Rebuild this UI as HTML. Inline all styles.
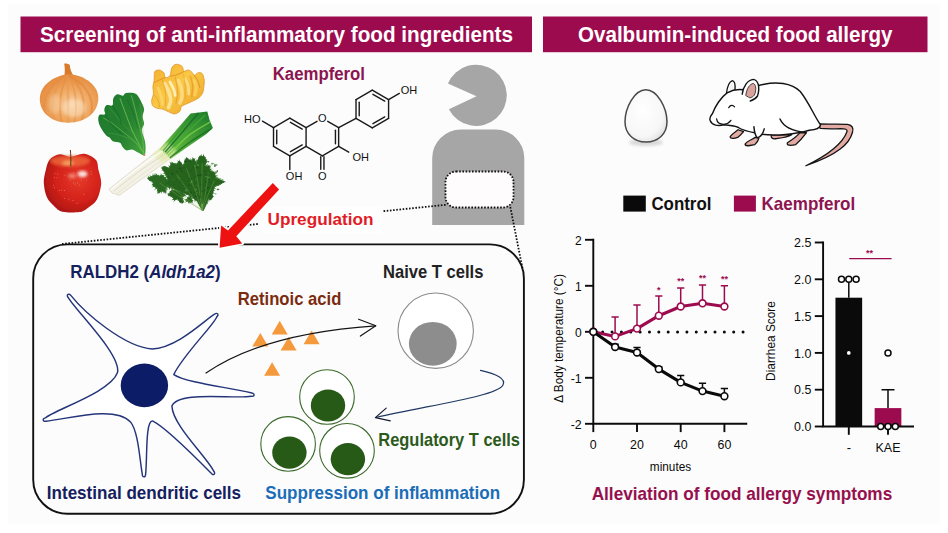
<!DOCTYPE html>
<html lang="en"><head><meta charset="utf-8"><title>Graphical abstract</title>
<style>
html,body{margin:0;padding:0;background:#ffffff;}
body{width:948px;height:533px;overflow:hidden;}
svg{display:block;font-family:"Liberation Sans",sans-serif;}
</style></head><body>
<svg width="948" height="533" viewBox="0 0 948 533">
<rect width="948" height="533" fill="#ffffff"/><rect x="8" y="4" width="932" height="520" fill="#fcfcfc"/>
<defs>
<filter id="b1" x="-10%" y="-10%" width="120%" height="120%"><feGaussianBlur stdDeviation="0.55"/></filter>
<filter id="b2" x="-20%" y="-20%" width="140%" height="140%"><feGaussianBlur stdDeviation="1.6"/></filter>
<filter id="b3" x="-30%" y="-30%" width="160%" height="160%"><feGaussianBlur stdDeviation="3"/></filter>
<radialGradient id="gOnion" cx="0.55" cy="0.62" r="0.62">
 <stop offset="0" stop-color="#f9d3a8"/><stop offset="0.45" stop-color="#f0ad68"/><stop offset="1" stop-color="#e48a3c"/>
</radialGradient>
<radialGradient id="gApple" cx="0.6" cy="0.42" r="0.68">
 <stop offset="0" stop-color="#e63a2a"/><stop offset="0.55" stop-color="#d4221b"/><stop offset="1" stop-color="#a51410"/>
</radialGradient>
<linearGradient id="gGinger" x1="0" y1="0" x2="1" y2="1">
 <stop offset="0" stop-color="#f4ad2c"/><stop offset="0.45" stop-color="#f9c845"/><stop offset="1" stop-color="#eca426"/>
</linearGradient>
<linearGradient id="gSpin" x1="0" y1="0.2" x2="1" y2="0.8">
 <stop offset="0" stop-color="#1d7a2e"/><stop offset="0.6" stop-color="#27812f"/><stop offset="1" stop-color="#3fa03a"/>
</linearGradient>
<linearGradient id="gLeek" x1="0" y1="1" x2="1" y2="0">
 <stop offset="0" stop-color="#c9dc6e"/><stop offset="0.25" stop-color="#5db53b"/><stop offset="1" stop-color="#1a7a2a"/>
</linearGradient>
<radialGradient id="gEgg" cx="0.42" cy="0.4" r="0.7">
 <stop offset="0" stop-color="#ffffff"/><stop offset="0.7" stop-color="#f7f7f7"/><stop offset="1" stop-color="#dcdcdc"/>
</radialGradient>
<clipPath id="cOnion"><ellipse cx="69" cy="98.5" rx="29.3" ry="24.2"/></clipPath>
</defs>
<g filter="url(#b1)">
<path d="M64.4,76 C65.2,70 64.6,66 64.2,63.8 C66,63.2 68.4,64 69.8,65 C70,69 71.5,72.5 73.5,76 Z" fill="#d97a2c"/>
<path d="M69,74.2 C58,74.5 39.8,83 39.8,99 C39.8,113 52,122.7 68,122.7 C85,122.7 98.3,113 98.3,98 C98.3,83 80,74 69,74.2 Z" fill="url(#gOnion)"/>
<g clip-path="url(#cOnion)" fill="none" stroke-linecap="round">
<path d="M68,75 C46.4,86 38.0,104 48.8,123" stroke="#e38b40" stroke-width="2.2" opacity="0.55"/>
<path d="M68,75 C53.6,86 48.0,104 55.2,123" stroke="#e9964b" stroke-width="2.4" opacity="0.55"/>
<path d="M68,75 C60.8,86 58.0,104 61.6,123" stroke="#e58c3e" stroke-width="2" opacity="0.55"/>
<path d="M68,75 C68.0,86 68.0,104 68.0,123" stroke="#ea9a52" stroke-width="2.6" opacity="0.55"/>
<path d="M68,75 C75.2,86 78.0,104 74.4,123" stroke="#e99246" stroke-width="2" opacity="0.55"/>
<path d="M68,75 C82.4,86 88.0,104 80.8,123" stroke="#e58d42" stroke-width="2.4" opacity="0.55"/>
<path d="M68,75 C89.6,86 98.0,104 87.2,123" stroke="#e18538" stroke-width="2.2" opacity="0.55"/>
<ellipse cx="74" cy="108" rx="12" ry="9" fill="#fbe2c4" opacity="0.5" filter="url(#b2)"/>
<ellipse cx="55" cy="104" rx="6" ry="10" fill="#f8d4ae" opacity="0.45" filter="url(#b2)"/>
</g></g>
<g filter="url(#b1)">
<path d="M154.3,74.5 C154.4,73.0 154.1,72.0 155.0,71.2 C155.9,70.5 158.0,69.7 159.5,70.0 C161.0,70.3 163.1,71.8 164.0,73.0 C165.0,74.3 164.2,77.1 165.2,77.5 C166.2,78.0 168.9,77.3 170.0,75.7 C171.1,74.1 170.8,69.7 171.8,67.8 C172.8,65.9 174.3,64.6 176.0,64.3 C177.7,64.1 180.7,65.1 182.0,66.3 C183.3,67.4 182.8,70.6 183.8,71.2 C184.9,71.8 187.0,69.8 188.3,70.0 C189.7,70.2 191.1,71.5 192.1,72.4 C193.1,73.3 193.3,75.2 194.4,75.3 C195.4,75.3 196.9,73.0 198.3,72.7 C199.6,72.5 201.3,72.5 202.3,73.8 C203.3,75.1 204.0,78.4 204.3,80.5 C204.5,82.7 204.1,84.5 203.8,86.5 C203.6,88.5 203.6,90.7 202.8,92.5 C201.9,94.4 200.7,96.3 198.9,97.8 C197.0,99.3 194.1,100.4 191.8,101.5 C189.5,102.7 186.8,103.7 185.0,104.5 C183.3,105.4 182.2,105.7 181.3,106.8 C180.4,107.9 180.9,110.1 179.8,111.3 C178.7,112.5 176.4,113.8 174.5,113.9 C172.7,113.9 170.5,112.6 168.5,111.8 C166.5,111.0 164.4,109.6 162.5,109.1 C160.6,108.5 158.9,108.9 157.3,108.3 C155.6,107.8 153.7,107.1 152.8,105.8 C151.8,104.4 151.6,102.0 151.7,100.0 C151.8,98.1 153.3,96.3 153.5,94.0 C153.7,91.8 152.8,88.8 152.9,86.5 C153.0,84.3 153.9,82.5 154.1,80.5 C154.3,78.5 154.1,76.1 154.3,74.5 Z" fill="url(#gGinger)" stroke="#e0952a" stroke-width="0.8"/>
<path d="M164.8,83.5 C165.4,84.8 167.5,88.3 168.5,91.0 C169.5,93.8 170.8,97.3 170.8,100.0 C170.8,102.8 168.9,106.3 168.5,107.6 " fill="none" stroke="#fde9a6" stroke-width="3.60" stroke-linecap="round" opacity="0.8"/>
<path d="M170.0,82.0 C170.7,83.3 172.9,87.3 173.8,89.5 C174.7,91.8 175.0,94.5 175.3,95.5 " fill="none" stroke="#fff3cf" stroke-width="2.80" stroke-linecap="round" opacity="0.85"/>
<path d="M178.3,80.5 C178.8,81.8 180.7,85.3 181.3,88.0 C181.9,90.8 182.3,94.5 182.0,97.0 C181.8,99.5 180.2,102.0 179.8,103.0 " fill="none" stroke="#fce08c" stroke-width="3.60" stroke-linecap="round" opacity="0.8"/>
<path d="M185.0,79.0 C185.5,80.0 187.4,82.5 188.0,85.0 C188.7,87.5 188.7,92.5 188.8,94.0 " fill="none" stroke="#fde59a" stroke-width="2.80" stroke-linecap="round" opacity="0.7"/>
<path d="M158.0,88.0 C158.5,89.3 160.3,92.8 161.0,95.5 C161.8,98.3 162.3,103.0 162.5,104.5 " fill="none" stroke="#fbd870" stroke-width="2.80" stroke-linecap="round" opacity="0.7"/>
<path d="M194.1,80.5 C194.4,81.7 196.2,84.9 196.3,87.3 C196.4,89.7 195.1,93.5 194.8,94.8 " fill="none" stroke="#fbd666" stroke-width="3.20" stroke-linecap="round" opacity="0.7"/>
<path d="M175.3,77.5 C175.5,78.8 176.4,82.3 176.8,85.0 C177.2,87.8 177.7,91.0 177.5,94.0 C177.4,97.0 176.3,101.5 176.0,103.0 " fill="none" stroke="#e99a2a" stroke-width="1.28" stroke-linecap="round" opacity="0.7"/>
<path d="M190.3,76.0 C190.7,77.5 192.3,81.5 192.6,85.0 C192.8,88.5 191.9,95.0 191.8,97.0 " fill="none" stroke="#e7962a" stroke-width="1.28" stroke-linecap="round" opacity="0.7"/>
<path d="M162.5,80.5 C163.0,82.5 165.0,88.3 165.5,92.5 C166.0,96.8 165.5,103.8 165.5,106.1 " fill="none" stroke="#e99a2a" stroke-width="1.12" stroke-linecap="round" opacity="0.6"/>
<path d="M183.5,74.5 C183.8,76.3 184.8,80.8 185.0,85.0 C185.3,89.3 185.0,97.5 185.0,100.0 " fill="none" stroke="#eaa030" stroke-width="1.12" stroke-linecap="round" opacity="0.55"/>
<path d="M154.7,82.3 C155.5,81.9 157.8,80.7 159.5,79.9 C161.2,79.2 164.0,78.2 164.9,77.8 " fill="none" stroke="#dc8a22" stroke-width="1.04" stroke-linecap="round" opacity="0.75"/>
<path d="M170.6,76.3 C171.8,76.0 175.3,75.3 177.5,74.5 C179.7,73.7 182.8,72.0 183.8,71.5 " fill="none" stroke="#dc8a22" stroke-width="1.04" stroke-linecap="round" opacity="0.7"/>
<path d="M194.4,75.6 C194.9,76.4 196.9,78.9 197.8,80.8 C198.7,82.8 199.4,86.2 199.8,87.3 " fill="none" stroke="#dc8a22" stroke-width="1.04" stroke-linecap="round" opacity="0.7"/>
<path d="M153.5,94.3 C154.3,95.3 157.0,98.0 158.0,100.0 C159.0,102.1 159.3,105.7 159.5,106.8 " fill="none" stroke="#dc8a22" stroke-width="0.96" stroke-linecap="round" opacity="0.6"/>
</g>
<g filter="url(#b1)">
<path d="M144.4,155.3 C145.6,154.5 145.5,150.5 145.6,148.1 C145.6,145.6 145.4,143.6 144.8,140.6 C144.2,137.6 141.9,132.8 141.8,130.0 C141.7,127.3 143.9,126.3 144.1,124.0 C144.2,121.8 142.6,119.0 142.6,116.5 C142.6,114.0 144.3,111.5 144.1,109.0 C143.8,106.5 142.3,104.0 141.1,101.5 C139.8,99.1 138.3,95.8 136.5,94.3 C134.8,92.9 132.4,93.0 130.5,92.8 C128.7,92.6 126.5,92.8 125.3,93.3 C124.0,93.8 124.4,95.6 123.0,95.8 C121.7,96.0 119.0,93.9 117.3,94.3 C115.7,94.8 114.1,96.7 113.3,98.5 C112.5,100.3 113.6,104.1 112.5,105.3 C111.4,106.4 107.9,104.5 106.5,105.3 C105.1,106.0 104.5,108.3 104.3,109.8 C104.0,111.3 105.8,113.4 105.0,114.3 C104.2,115.2 100.4,113.9 99.3,115.0 C98.2,116.2 98.1,118.8 98.4,121.0 C98.7,123.3 99.9,126.1 101.3,128.5 C102.6,131.0 105.1,134.2 106.5,135.8 C107.9,137.3 108.5,136.6 109.5,137.6 C110.6,138.5 111.1,140.4 112.8,141.3 C114.6,142.2 118.5,141.9 120.0,142.8 C121.6,143.7 121.3,145.3 122.3,146.6 C123.3,147.8 124.4,149.8 126.0,150.3 C127.7,150.8 130.0,149.2 132.0,149.6 C134.0,149.9 136.0,151.6 138.0,152.6 C140.1,153.5 143.1,156.0 144.4,155.3 Z" fill="url(#gSpin)"/>
<path d="M144.1,154.4 C143.3,152.8 141.6,149.1 139.5,145.1 C137.5,141.0 134.5,135.8 132.0,130.0 C129.5,124.3 126.5,115.8 124.5,110.5 C122.5,105.3 120.8,100.5 120.0,98.5 " fill="none" stroke="#7cc45e" stroke-width="0.92" stroke-linecap="round" opacity="0.85"/>
<path d="M142.6,151.8 C141.3,150.2 138.0,145.2 135.0,142.1 C132.0,138.9 128.5,136.3 124.5,133.0 C120.5,129.8 114.5,125.0 111.0,122.5 C107.5,120.0 104.8,118.8 103.5,118.0 " fill="none" stroke="#6dbb55" stroke-width="0.85" stroke-linecap="round" opacity="0.8"/>
<path d="M143.8,153.3 C143.6,150.9 143.5,144.4 142.6,139.1 C141.6,133.7 139.5,127.0 138.0,121.0 C136.5,115.0 134.7,107.3 133.5,103.0 C132.4,98.8 131.7,96.8 131.3,95.5 " fill="none" stroke="#74c05a" stroke-width="0.85" stroke-linecap="round" opacity="0.8"/>
<path d="M139.5,145.1 C138.0,144.1 134.3,140.8 130.5,139.1 C126.8,137.3 120.8,135.6 117.0,134.5 C113.3,133.5 109.5,133.3 108.0,133.0 " fill="none" stroke="#58ad48" stroke-width="0.62" stroke-linecap="round" opacity="0.6"/>
<path d="M135.0,134.5 C133.5,133.3 129.5,130.5 126.0,127.0 C122.5,123.5 116.8,116.8 114.0,113.5 C111.3,110.3 110.3,108.5 109.5,107.5 " fill="none" stroke="#58ad48" stroke-width="0.62" stroke-linecap="round" opacity="0.6"/>
<path d="M143.3,145.1 C143.2,142.6 143.1,135.1 142.9,130.0 C142.6,125.0 142.2,119.3 141.8,115.0 C141.4,110.8 140.6,106.3 140.3,104.5 " fill="none" stroke="#58ad48" stroke-width="0.58" stroke-linecap="round" opacity="0.55"/>
<path d="M112.5,106.0 C113.5,107.5 117.0,112.0 118.5,115.0 C120.0,118.0 121.0,122.5 121.5,124.0 " fill="none" stroke="#14602a" stroke-width="1.15" stroke-linecap="round" opacity="0.45"/>
<path d="M105.8,115.0 C106.9,116.8 109.8,122.3 112.5,125.5 C115.3,128.8 120.7,133.0 122.3,134.5 " fill="none" stroke="#14602a" stroke-width="1.15" stroke-linecap="round" opacity="0.45"/>
<path d="M127.5,100.0 C128.5,102.3 131.8,108.8 133.5,113.5 C135.3,118.3 137.3,126.0 138.0,128.5 " fill="none" stroke="#14602a" stroke-width="1.15" stroke-linecap="round" opacity="0.4"/>
<circle cx="144.4" cy="155" r="1.1" fill="#c98a6a"/>
</g>
<g filter="url(#b1)">
<path d="M108.9,189.2 L160.1,148.6 L170.5,158.5 L119.3,195.3 L112.2,193.1 Z" fill="#f3f1e4" stroke="#d6d3c2" stroke-width="0.7"/>
<path d="M159.1,149.4 L174.8,131.7 L190.6,113.5 L207.3,111.6 L209.5,119.8 L212.9,128.1 L206.4,134.0 L186.7,147.4 L170.9,158.8 Z" fill="url(#gLeek)"/>
<path d="M153.2,154.3 L160.1,148.6 L167.0,142.5 L176.8,150.4 L170.5,158.5 L163.0,163.6 Z" fill="#e4ecaa" opacity="0.75" filter="url(#b2)"/>
<path d="M165.0,152.3 C168.0,148.9 177.1,138.2 182.7,131.7 C188.3,125.1 195.9,116.1 198.5,113.0 " fill="none" stroke="#156b25" stroke-width="1.60" stroke-linecap="butt" opacity="0.8"/>
<path d="M168.0,155.7 C171.4,152.3 181.6,141.3 188.6,135.6 C195.7,130.0 206.7,124.1 210.3,121.8 " fill="none" stroke="#79cf4a" stroke-width="1.50" stroke-linecap="butt" opacity="0.8"/>
<path d="M166.6,153.7 C169.9,150.2 180.2,139.1 186.7,132.7 C193.1,126.2 202.3,117.9 205.4,114.9 " fill="none" stroke="#3daa38" stroke-width="1.50" stroke-linecap="butt" opacity="0.7"/>
<path d="M169.9,157.9 C173.4,155.1 183.7,146.4 190.6,141.5 C197.5,136.7 207.8,130.8 211.3,128.7 " fill="none" stroke="#186f27" stroke-width="1.50" stroke-linecap="butt" opacity="0.8"/>
<path d="M163.0,151.0 C165.7,147.8 174.0,137.7 178.8,131.7 C183.5,125.7 189.5,117.7 191.6,114.9 " fill="none" stroke="#2b9433" stroke-width="1.25" stroke-linecap="butt" opacity="0.7"/>
<path d="M113.8,191.2 C118.1,187.8 130.8,177.3 139.4,171.1 C148.0,164.8 161.1,156.6 165.4,153.7 " fill="none" stroke="#cfccb8" stroke-width="0.80" stroke-linecap="butt" opacity="0.8"/>
<path d="M110.8,189.8 C114.9,186.5 126.8,176.6 135.5,170.1 C144.1,163.6 158.1,154.0 162.6,150.8 " fill="none" stroke="#ffffff" stroke-width="1.25" stroke-linecap="butt" opacity="0.8"/>
<path d="M116.7,193.7 C120.8,190.6 132.8,181.2 141.4,175.0 C149.9,168.8 163.5,159.4 168.0,156.3 " fill="none" stroke="#dedbc8" stroke-width="0.80" stroke-linecap="butt" opacity="0.7"/>
</g>
<g filter="url(#b1)">
<path d="M202.2,210.4 L197.3,201.2 L188.8,195.1 L180.2,191.5 L170.5,187.8 L166.2,185.4 L168.0,179.3 L164.4,172.0 L162.0,168.3 L164.4,166.5 L169.3,168.3 L171.7,162.8 L176.6,164.6 L179.0,161.0 L181.5,163.4 L182.1,168.3 L186.3,157.9 L191.2,161.0 L193.7,158.5 L196.1,163.4 L199.8,156.1 L204.6,156.7 L206.5,161.6 L204.6,165.9 L209.5,166.5 L210.1,170.7 L214.4,172.6 L215.6,177.4 L220.5,179.9 L224.1,181.7 L219.3,184.8 L214.4,186.6 L213.2,191.5 L211.3,197.0 L208.3,198.8 L206.5,203.7 L203.4,210.4 Z" fill="#27641f" stroke="#27641f" stroke-width="0.8" stroke-linejoin="round"/>
<path d="M147.9,178.0 L152.2,176.2 L155.9,175.0 L159.5,176.2 L162.0,175.0 L166.2,178.7 L168.0,184.1 L166.2,187.8 L165.6,192.1 L162.0,190.9 L158.3,192.7 L157.7,189.0 L152.8,185.4 L153.4,181.7 L149.8,180.5 Z" fill="#296a22" stroke="#296a22" stroke-width="0.8" stroke-linejoin="round"/>
<path d="M168.0,195.1 L171.7,190.2 L176.6,190.9 L181.5,192.7 L185.1,195.1 L182.1,197.0 L183.3,202.4 L180.2,202.4 L177.8,198.8 L174.1,200.0 L172.9,197.0 Z" fill="#27641f" stroke="#27641f" stroke-width="0.8" stroke-linejoin="round"/>
<path d="M185.7,200.6 L188.8,197.0 L191.2,198.2 L192.4,201.2 L189.4,202.4 Z" fill="#27641f" stroke="#27641f" stroke-width="0.8" stroke-linejoin="round"/>
<path d="M208.3,198.8 L211.3,193.9 L213.2,196.3 L210.7,200.0 Z" fill="#235c1d" stroke="#235c1d" stroke-width="0.8" stroke-linejoin="round"/>
<path d="M194.5,199.1 L194.8,202.5 L196.0,199.3 Z" fill="#25601f"/>
<path d="M190.4,195.8 L189.7,198.8 L191.8,196.6 Z" fill="#2a6b23"/>
<path d="M186.7,193.5 L184.3,196.2 L187.4,194.3 Z" fill="#2f7427"/>
<path d="M182.8,191.8 L180.1,192.7 L182.9,192.8 Z" fill="#2a6b23"/>
<path d="M177.6,189.8 L176.6,192.2 L178.6,190.5 Z" fill="#2f7427"/>
<path d="M173.0,188.0 L170.6,190.4 L173.6,188.9 Z" fill="#25601f"/>
<path d="M169.7,186.3 L167.6,187.5 L170.1,187.9 Z" fill="#2a6b23"/>
<path d="M167.4,185.0 L165.4,186.8 L168.1,186.6 Z" fill="#2a6b23"/>
<path d="M167.0,183.1 L163.7,184.6 L167.3,184.4 Z" fill="#25601f"/>
<path d="M168.3,180.1 L165.7,180.3 L167.8,181.7 Z" fill="#2a6b23"/>
<path d="M167.9,177.4 L165.0,175.3 L167.0,178.2 Z" fill="#2f7427"/>
<path d="M165.9,173.3 L162.3,173.1 L165.6,174.5 Z" fill="#2f7427"/>
<path d="M164.3,170.6 L161.2,170.6 L164.2,171.6 Z" fill="#25601f"/>
<path d="M163.3,169.0 L161.2,168.1 L162.6,170.0 Z" fill="#2f7427"/>
<path d="M163.3,167.4 L160.6,166.9 L162.7,168.6 Z" fill="#25601f"/>
<path d="M164.4,166.2 L161.7,166.7 L164.2,167.8 Z" fill="#25601f"/>
<path d="M166.3,166.4 L163.5,166.1 L165.8,167.7 Z" fill="#2f7427"/>
<path d="M168.7,167.6 L165.7,166.9 L168.3,168.5 Z" fill="#2a6b23"/>
<path d="M170.8,166.7 L168.2,164.9 L169.6,167.8 Z" fill="#2a6b23"/>
<path d="M172.1,164.1 L169.5,161.6 L170.7,165.0 Z" fill="#2f7427"/>
<path d="M173.7,163.2 L170.8,161.2 L172.9,164.0 Z" fill="#2f7427"/>
<path d="M176.1,163.6 L172.7,163.3 L175.6,165.1 Z" fill="#2f7427"/>
<path d="M177.8,163.4 L174.2,162.8 L177.5,164.4 Z" fill="#2f7427"/>
<path d="M179.1,162.0 L177.1,160.1 L178.3,162.6 Z" fill="#2f7427"/>
<path d="M180.3,162.0 L179.4,159.1 L179.1,162.1 Z" fill="#2f7427"/>
<path d="M181.7,162.6 L178.8,160.8 L180.7,163.7 Z" fill="#25601f"/>
<path d="M182.3,164.9 L180.5,161.7 L181.3,165.3 Z" fill="#2a6b23"/>
<path d="M182.7,166.5 L179.6,166.0 L182.0,168.0 Z" fill="#2a6b23"/>
<path d="M184.0,165.4 L181.2,164.1 L183.0,166.6 Z" fill="#2f7427"/>
<path d="M186.2,160.8 L184.9,158.6 L184.5,161.2 Z" fill="#25601f"/>
<path d="M188.5,158.4 L185.8,157.1 L187.4,159.6 Z" fill="#2a6b23"/>
<path d="M190.3,160.9 L190.9,157.9 L189.3,160.5 Z" fill="#2f7427"/>
<path d="M192.6,160.5 L190.5,158.4 L191.7,161.1 Z" fill="#2f7427"/>
<path d="M194.0,159.3 L192.3,156.9 L192.4,159.9 Z" fill="#2a6b23"/>
<path d="M194.6,160.5 L195.5,157.7 L193.4,159.8 Z" fill="#25601f"/>
<path d="M196.2,162.5 L195.1,160.1 L194.9,162.8 Z" fill="#2a6b23"/>
<path d="M197.8,161.8 L196.0,158.9 L196.6,162.3 Z" fill="#2a6b23"/>
<path d="M199.3,158.6 L199.6,155.6 L198.1,158.2 Z" fill="#2a6b23"/>
<path d="M201.5,156.9 L201.5,153.8 L200.2,156.6 Z" fill="#25601f"/>
<path d="M204.1,157.1 L203.8,153.7 L202.6,156.9 Z" fill="#25601f"/>
<path d="M205.4,158.6 L205.9,156.4 L204.3,158.1 Z" fill="#25601f"/>
<path d="M206.2,161.2 L207.3,158.7 L205.2,160.3 Z" fill="#25601f"/>
<path d="M206.1,163.4 L208.1,160.4 L205.2,162.6 Z" fill="#2a6b23"/>
<path d="M205.4,165.6 L206.0,163.3 L204.2,164.8 Z" fill="#2f7427"/>
<path d="M206.3,166.7 L206.5,164.0 L205.1,166.3 Z" fill="#25601f"/>
<path d="M208.4,167.1 L210.4,164.4 L207.5,166.2 Z" fill="#25601f"/>
<path d="M210.0,168.3 L211.3,164.9 L208.9,167.6 Z" fill="#2a6b23"/>
<path d="M209.8,170.6 L212.5,168.8 L209.2,169.0 Z" fill="#2f7427"/>
<path d="M211.1,171.9 L213.2,169.7 L210.5,171.0 Z" fill="#2f7427"/>
<path d="M212.9,172.9 L215.7,172.0 L212.8,171.4 Z" fill="#25601f"/>
<path d="M214.4,174.6 L216.9,173.1 L214.0,173.2 Z" fill="#25601f"/>
<path d="M215.1,176.9 L218.2,175.2 L214.6,175.8 Z" fill="#25601f"/>
<path d="M216.3,178.8 L219.5,178.2 L216.4,177.3 Z" fill="#2a6b23"/>
<path d="M219.2,180.1 L221.4,177.9 L218.5,178.9 Z" fill="#2a6b23"/>
<path d="M221.3,181.2 L223.8,179.1 L220.6,179.9 Z" fill="#2a6b23"/>
<path d="M222.5,181.5 L226.0,182.7 L223.1,180.5 Z" fill="#2a6b23"/>
<path d="M222.8,183.3 L225.6,180.9 L222.2,182.1 Z" fill="#25601f"/>
<path d="M220.4,184.8 L222.5,182.7 L219.7,183.7 Z" fill="#25601f"/>
<path d="M218.0,186.1 L219.8,184.3 L217.3,184.8 Z" fill="#2f7427"/>
<path d="M215.5,186.9 L217.6,185.0 L214.9,185.8 Z" fill="#2f7427"/>
<path d="M213.3,188.1 L216.3,189.4 L214.1,187.0 Z" fill="#2a6b23"/>
<path d="M212.8,190.6 L215.5,191.0 L213.2,189.5 Z" fill="#25601f"/>
<path d="M212.0,193.5 L215.2,193.5 L212.5,191.9 Z" fill="#2a6b23"/>
<path d="M211.0,196.0 L214.3,197.0 L211.7,194.7 Z" fill="#2f7427"/>
<path d="M209.8,197.6 L212.1,198.6 L210.6,196.6 Z" fill="#2f7427"/>
<path d="M208.2,198.0 L209.8,201.4 L209.6,197.7 Z" fill="#2f7427"/>
<path d="M207.1,199.7 L208.6,202.6 L208.3,199.3 Z" fill="#2f7427"/>
<path d="M206.2,202.3 L208.2,204.7 L207.2,201.8 Z" fill="#25601f"/>
<path d="M149.8,177.7 L147.7,175.4 L148.7,178.3 Z" fill="#2a6b23"/>
<path d="M152.0,176.5 L149.4,175.0 L151.0,177.6 Z" fill="#2f7427"/>
<path d="M153.8,176.4 L153.0,172.9 L152.4,176.4 Z" fill="#2f7427"/>
<path d="M155.6,175.7 L154.7,173.2 L154.4,175.8 Z" fill="#2a6b23"/>
<path d="M157.6,175.5 L155.5,172.4 L156.3,176.0 Z" fill="#2f7427"/>
<path d="M159.5,176.1 L157.9,174.3 L158.1,176.6 Z" fill="#2f7427"/>
<path d="M160.7,176.4 L160.0,174.2 L159.6,176.4 Z" fill="#2f7427"/>
<path d="M162.0,175.6 L160.8,172.9 L160.9,175.9 Z" fill="#2f7427"/>
<path d="M163.0,176.7 L164.6,174.6 L162.3,175.8 Z" fill="#2a6b23"/>
<path d="M165.0,178.6 L167.1,176.8 L164.4,177.3 Z" fill="#2f7427"/>
<path d="M166.5,181.0 L169.4,178.9 L165.9,179.5 Z" fill="#2a6b23"/>
<path d="M167.6,183.5 L169.1,181.6 L166.8,182.6 Z" fill="#25601f"/>
<path d="M167.1,185.8 L169.7,185.0 L167.1,184.4 Z" fill="#2f7427"/>
<path d="M166.0,187.6 L169.3,187.4 L166.4,186.0 Z" fill="#2a6b23"/>
<path d="M165.6,189.5 L168.1,189.0 L165.6,188.2 Z" fill="#2a6b23"/>
<path d="M165.1,190.7 L166.6,193.4 L166.1,190.4 Z" fill="#2f7427"/>
<path d="M163.7,191.8 L166.1,194.1 L165.2,190.9 Z" fill="#25601f"/>
<path d="M162.1,191.1 L164.5,193.7 L163.1,190.4 Z" fill="#2f7427"/>
<path d="M160.2,190.9 L161.4,194.1 L161.8,190.7 Z" fill="#2f7427"/>
<path d="M158.6,191.5 L158.7,194.0 L160.1,192.0 Z" fill="#25601f"/>
<path d="M157.6,191.1 L157.3,194.2 L159.0,191.6 Z" fill="#2f7427"/>
<path d="M157.5,189.2 L156.8,191.6 L158.7,189.9 Z" fill="#25601f"/>
<path d="M156.4,187.3 L154.1,190.2 L157.3,188.3 Z" fill="#2f7427"/>
<path d="M154.2,185.6 L151.4,187.6 L154.7,186.5 Z" fill="#2a6b23"/>
<path d="M153.2,183.8 L151.3,185.2 L153.6,184.7 Z" fill="#2a6b23"/>
<path d="M153.7,182.1 L150.9,182.7 L153.8,183.1 Z" fill="#2f7427"/>
<path d="M153.3,181.0 L151.0,180.4 L152.5,182.3 Z" fill="#2a6b23"/>
<path d="M151.3,180.6 L148.1,179.4 L150.9,181.5 Z" fill="#2a6b23"/>
<path d="M150.1,179.9 L147.8,177.6 L149.0,180.6 Z" fill="#2a6b23"/>
<path d="M149.1,178.5 L146.5,177.4 L148.5,179.4 Z" fill="#25601f"/>
<path d="M169.4,193.2 L166.4,194.0 L169.5,194.6 Z" fill="#25601f"/>
<path d="M171.4,190.9 L169.0,191.1 L171.1,192.2 Z" fill="#25601f"/>
<path d="M173.6,190.5 L171.3,188.3 L172.8,191.1 Z" fill="#2a6b23"/>
<path d="M176.2,190.9 L174.3,188.4 L175.0,191.4 Z" fill="#25601f"/>
<path d="M178.5,191.9 L178.0,189.5 L177.0,191.7 Z" fill="#2a6b23"/>
<path d="M180.3,193.0 L182.2,190.4 L179.5,192.1 Z" fill="#25601f"/>
<path d="M182.1,194.0 L184.2,192.5 L181.7,193.0 Z" fill="#2a6b23"/>
<path d="M184.1,195.3 L186.6,193.1 L183.4,194.2 Z" fill="#2a6b23"/>
<path d="M183.7,196.1 L187.2,196.4 L184.1,194.8 Z" fill="#2f7427"/>
<path d="M182.6,197.3 L185.4,195.5 L182.1,196.0 Z" fill="#2a6b23"/>
<path d="M181.6,198.9 L184.0,199.0 L182.3,197.4 Z" fill="#25601f"/>
<path d="M182.1,201.3 L184.5,202.5 L183.2,200.1 Z" fill="#2f7427"/>
<path d="M181.8,202.1 L182.9,204.3 L183.1,201.8 Z" fill="#25601f"/>
<path d="M180.3,202.2 L181.6,204.1 L181.3,201.8 Z" fill="#2f7427"/>
<path d="M179.0,201.2 L180.3,203.5 L180.0,200.9 Z" fill="#25601f"/>
<path d="M177.5,199.6 L179.4,201.5 L178.8,198.9 Z" fill="#2f7427"/>
<path d="M176.2,198.8 L177.5,201.1 L177.3,198.4 Z" fill="#25601f"/>
<path d="M174.9,198.9 L173.3,201.9 L175.9,199.7 Z" fill="#25601f"/>
<path d="M174.0,198.3 L171.4,200.3 L174.6,199.8 Z" fill="#2f7427"/>
<path d="M173.8,197.3 L171.0,197.3 L173.6,198.3 Z" fill="#25601f"/>
<path d="M172.0,195.8 L169.9,197.2 L172.3,196.8 Z" fill="#2a6b23"/>
<path d="M169.5,194.9 L167.5,196.5 L169.9,195.8 Z" fill="#2f7427"/>
<path d="M187.2,199.2 L184.4,199.0 L186.7,200.5 Z" fill="#2f7427"/>
<path d="M188.6,198.4 L188.3,195.3 L187.3,198.3 Z" fill="#2f7427"/>
<path d="M190.0,197.9 L189.7,195.3 L188.6,197.6 Z" fill="#2a6b23"/>
<path d="M191.0,198.7 L191.8,195.9 L189.7,197.9 Z" fill="#2a6b23"/>
<path d="M191.3,199.8 L193.3,198.4 L190.8,198.3 Z" fill="#2f7427"/>
<path d="M191.4,201.1 L193.8,201.0 L191.9,199.5 Z" fill="#2f7427"/>
<path d="M190.7,201.6 L192.9,203.4 L192.1,200.7 Z" fill="#25601f"/>
<path d="M189.4,202.7 L192.3,203.1 L190.0,201.2 Z" fill="#2a6b23"/>
<path d="M187.8,201.7 L189.3,204.5 L188.9,201.3 Z" fill="#25601f"/>
<path d="M186.6,200.4 L184.4,203.3 L187.3,201.1 Z" fill="#25601f"/>
<ellipse cx="169.7" cy="176.1" rx="1.2" ry="0.6" fill="#3f8a33" opacity="0.75"/>
<ellipse cx="184.6" cy="163.5" rx="0.7" ry="0.6" fill="#4a973a" opacity="0.75"/>
<ellipse cx="200.9" cy="196.5" rx="1.0" ry="1.1" fill="#17481a" opacity="0.75"/>
<ellipse cx="206.5" cy="176.5" rx="0.6" ry="1.0" fill="#1a4f17" opacity="0.75"/>
<ellipse cx="209.5" cy="182.3" rx="1.2" ry="0.6" fill="#1a4f17" opacity="0.75"/>
<ellipse cx="207.7" cy="164.5" rx="0.6" ry="0.6" fill="#4a973a" opacity="0.75"/>
<ellipse cx="168.3" cy="176.0" rx="0.6" ry="1.0" fill="#1a4f17" opacity="0.75"/>
<ellipse cx="189.0" cy="185.2" rx="1.5" ry="0.6" fill="#1a4f17" opacity="0.75"/>
<ellipse cx="202.1" cy="185.2" rx="1.1" ry="0.6" fill="#1f5a1b" opacity="0.75"/>
<ellipse cx="182.1" cy="165.1" rx="1.5" ry="0.6" fill="#17481a" opacity="0.75"/>
<ellipse cx="169.6" cy="188.6" rx="0.6" ry="0.8" fill="#17481a" opacity="0.75"/>
<ellipse cx="191.1" cy="182.6" rx="1.1" ry="0.6" fill="#4a973a" opacity="0.75"/>
<ellipse cx="166.3" cy="189.6" rx="1.4" ry="1.1" fill="#4a973a" opacity="0.75"/>
<ellipse cx="194.7" cy="166.2" rx="0.7" ry="1.0" fill="#4a973a" opacity="0.75"/>
<ellipse cx="208.6" cy="172.8" rx="1.1" ry="0.8" fill="#1f5a1b" opacity="0.75"/>
<ellipse cx="202.2" cy="191.2" rx="1.2" ry="0.7" fill="#17481a" opacity="0.75"/>
<ellipse cx="191.4" cy="170.4" rx="1.3" ry="1.0" fill="#1f5a1b" opacity="0.75"/>
<ellipse cx="212.0" cy="163.7" rx="0.9" ry="1.0" fill="#3f8a33" opacity="0.75"/>
<ellipse cx="214.9" cy="165.9" rx="1.0" ry="1.0" fill="#1a4f17" opacity="0.75"/>
<ellipse cx="200.0" cy="197.1" rx="1.2" ry="0.7" fill="#1a4f17" opacity="0.75"/>
<ellipse cx="208.2" cy="175.4" rx="0.9" ry="0.7" fill="#1f5a1b" opacity="0.75"/>
<ellipse cx="172.8" cy="179.8" rx="0.9" ry="0.5" fill="#3f8a33" opacity="0.75"/>
<ellipse cx="205.7" cy="182.0" rx="0.7" ry="1.1" fill="#1a4f17" opacity="0.75"/>
<ellipse cx="208.9" cy="177.5" rx="1.5" ry="0.9" fill="#3f8a33" opacity="0.75"/>
<ellipse cx="177.7" cy="177.2" rx="0.8" ry="0.7" fill="#3f8a33" opacity="0.75"/>
<ellipse cx="174.2" cy="184.4" rx="1.3" ry="0.6" fill="#1f5a1b" opacity="0.75"/>
<ellipse cx="193.4" cy="167.4" rx="1.0" ry="1.1" fill="#1f5a1b" opacity="0.75"/>
<ellipse cx="207.3" cy="165.4" rx="1.0" ry="0.6" fill="#3f8a33" opacity="0.75"/>
<ellipse cx="196.9" cy="167.5" rx="1.3" ry="1.1" fill="#1a4f17" opacity="0.75"/>
<ellipse cx="193.5" cy="197.6" rx="0.6" ry="0.6" fill="#17481a" opacity="0.75"/>
<ellipse cx="210.2" cy="186.9" rx="1.5" ry="0.5" fill="#1f5a1b" opacity="0.75"/>
<ellipse cx="195.9" cy="179.2" rx="1.0" ry="0.6" fill="#3f8a33" opacity="0.75"/>
<ellipse cx="180.1" cy="168.6" rx="1.1" ry="1.0" fill="#17481a" opacity="0.75"/>
<ellipse cx="206.8" cy="174.8" rx="1.3" ry="0.9" fill="#1f5a1b" opacity="0.75"/>
<ellipse cx="213.2" cy="163.3" rx="1.0" ry="0.6" fill="#4a973a" opacity="0.75"/>
<ellipse cx="209.2" cy="179.5" rx="0.7" ry="0.7" fill="#1a4f17" opacity="0.75"/>
<ellipse cx="205.1" cy="171.6" rx="1.3" ry="1.0" fill="#1f5a1b" opacity="0.75"/>
<ellipse cx="190.6" cy="178.7" rx="1.2" ry="1.0" fill="#17481a" opacity="0.75"/>
<ellipse cx="185.3" cy="161.4" rx="1.1" ry="0.9" fill="#17481a" opacity="0.75"/>
<ellipse cx="208.3" cy="161.8" rx="1.1" ry="0.8" fill="#1a4f17" opacity="0.75"/>
<ellipse cx="191.9" cy="181.6" rx="1.0" ry="1.0" fill="#4a973a" opacity="0.75"/>
<ellipse cx="196.0" cy="196.3" rx="1.2" ry="0.8" fill="#17481a" opacity="0.75"/>
<ellipse cx="207.5" cy="174.7" rx="0.6" ry="1.0" fill="#17481a" opacity="0.75"/>
<ellipse cx="176.5" cy="171.8" rx="0.7" ry="0.7" fill="#1a4f17" opacity="0.75"/>
<ellipse cx="196.0" cy="189.7" rx="0.9" ry="1.1" fill="#4a973a" opacity="0.75"/>
<ellipse cx="180.0" cy="188.0" rx="0.6" ry="0.6" fill="#1a4f17" opacity="0.75"/>
<ellipse cx="216.0" cy="172.3" rx="1.2" ry="1.0" fill="#3f8a33" opacity="0.75"/>
<ellipse cx="204.3" cy="184.1" rx="1.0" ry="0.6" fill="#1f5a1b" opacity="0.75"/>
<ellipse cx="172.0" cy="173.9" rx="1.0" ry="1.1" fill="#17481a" opacity="0.75"/>
<ellipse cx="200.8" cy="175.3" rx="1.4" ry="1.0" fill="#17481a" opacity="0.75"/>
<ellipse cx="197.8" cy="175.6" rx="1.4" ry="1.0" fill="#1a4f17" opacity="0.75"/>
<ellipse cx="201.7" cy="198.2" rx="1.4" ry="0.6" fill="#1f5a1b" opacity="0.75"/>
<ellipse cx="181.6" cy="171.1" rx="0.7" ry="1.1" fill="#17481a" opacity="0.75"/>
<ellipse cx="169.6" cy="176.6" rx="0.8" ry="0.5" fill="#1f5a1b" opacity="0.75"/>
<ellipse cx="195.3" cy="192.4" rx="1.3" ry="0.8" fill="#17481a" opacity="0.75"/>
<ellipse cx="187.9" cy="181.0" rx="0.9" ry="0.7" fill="#1f5a1b" opacity="0.75"/>
<ellipse cx="197.4" cy="197.5" rx="1.0" ry="0.6" fill="#1f5a1b" opacity="0.75"/>
<ellipse cx="181.1" cy="182.0" rx="0.8" ry="0.6" fill="#17481a" opacity="0.75"/>
<ellipse cx="196.8" cy="185.4" rx="1.3" ry="0.5" fill="#3f8a33" opacity="0.75"/>
<ellipse cx="191.0" cy="192.5" rx="0.9" ry="1.0" fill="#1a4f17" opacity="0.75"/>
<ellipse cx="199.4" cy="196.0" rx="1.4" ry="0.9" fill="#1f5a1b" opacity="0.75"/>
<ellipse cx="207.4" cy="192.7" rx="0.8" ry="0.6" fill="#1a4f17" opacity="0.75"/>
<ellipse cx="197.9" cy="164.9" rx="1.3" ry="1.0" fill="#4a973a" opacity="0.75"/>
<ellipse cx="207.8" cy="187.9" rx="1.5" ry="0.9" fill="#17481a" opacity="0.75"/>
<ellipse cx="216.2" cy="164.9" rx="1.3" ry="0.6" fill="#1a4f17" opacity="0.75"/>
<ellipse cx="182.6" cy="167.5" rx="0.8" ry="1.1" fill="#1a4f17" opacity="0.75"/>
<ellipse cx="190.0" cy="161.2" rx="1.5" ry="0.6" fill="#17481a" opacity="0.75"/>
<ellipse cx="165.8" cy="175.4" rx="1.5" ry="0.5" fill="#3f8a33" opacity="0.75"/>
<ellipse cx="205.5" cy="188.2" rx="0.6" ry="1.0" fill="#3f8a33" opacity="0.75"/>
<ellipse cx="218.0" cy="189.4" rx="1.4" ry="0.7" fill="#1f5a1b" opacity="0.75"/>
<ellipse cx="180.8" cy="179.8" rx="1.1" ry="0.7" fill="#1a4f17" opacity="0.75"/>
<ellipse cx="183.3" cy="193.0" rx="1.0" ry="0.6" fill="#17481a" opacity="0.75"/>
<ellipse cx="217.3" cy="171.2" rx="0.7" ry="1.1" fill="#1a4f17" opacity="0.75"/>
<ellipse cx="194.6" cy="177.3" rx="1.1" ry="0.7" fill="#1f5a1b" opacity="0.75"/>
<ellipse cx="214.6" cy="164.4" rx="0.7" ry="0.6" fill="#3f8a33" opacity="0.75"/>
<ellipse cx="208.5" cy="166.3" rx="0.6" ry="0.8" fill="#1a4f17" opacity="0.75"/>
<ellipse cx="215.8" cy="193.8" rx="0.6" ry="0.6" fill="#1a4f17" opacity="0.75"/>
<ellipse cx="216.7" cy="177.7" rx="1.1" ry="1.1" fill="#4a973a" opacity="0.75"/>
<ellipse cx="197.0" cy="192.7" rx="1.1" ry="0.5" fill="#4a973a" opacity="0.75"/>
<ellipse cx="186.2" cy="190.4" rx="1.4" ry="1.1" fill="#4a973a" opacity="0.75"/>
<ellipse cx="200.3" cy="184.3" rx="0.6" ry="0.5" fill="#17481a" opacity="0.75"/>
<ellipse cx="206.0" cy="176.6" rx="1.4" ry="0.7" fill="#4a973a" opacity="0.75"/>
<ellipse cx="218.0" cy="189.6" rx="0.7" ry="1.0" fill="#3f8a33" opacity="0.75"/>
<ellipse cx="187.7" cy="197.7" rx="0.8" ry="0.8" fill="#3f8a33" opacity="0.75"/>
<ellipse cx="179.8" cy="178.7" rx="0.6" ry="0.9" fill="#3f8a33" opacity="0.75"/>
<ellipse cx="205.9" cy="189.6" rx="0.7" ry="0.7" fill="#1a4f17" opacity="0.75"/>
<path d="M202.2,210.4 Q187.8,199.4 170.5,186.6" fill="none" stroke="#7db455" stroke-width="0.6" opacity="0.6"/>
<path d="M202.2,210.4 Q188.3,191.2 176.6,174.4" fill="none" stroke="#7db455" stroke-width="0.6" opacity="0.6"/>
<path d="M202.2,210.4 Q195.5,190.5 186.3,168.3" fill="none" stroke="#7db455" stroke-width="0.6" opacity="0.6"/>
<path d="M202.2,210.4 Q198.9,186.6 194.9,164.6" fill="none" stroke="#7db455" stroke-width="0.6" opacity="0.6"/>
<path d="M202.2,210.4 Q201.2,187.9 202.2,163.4" fill="none" stroke="#7db455" stroke-width="0.6" opacity="0.6"/>
<path d="M202.2,210.4 Q206.8,190.0 208.3,172.0" fill="none" stroke="#7db455" stroke-width="0.6" opacity="0.6"/>
<path d="M202.2,210.4 Q207.1,195.3 214.4,180.5" fill="none" stroke="#7db455" stroke-width="0.6" opacity="0.6"/>
<path d="M202.2,210.4 Q180.0,197.3 159.5,182.9" fill="none" stroke="#7db455" stroke-width="0.6" opacity="0.6"/>
<path d="M202.2,210.4 Q190.8,204.0 180.2,196.3" fill="none" stroke="#7db455" stroke-width="0.6" opacity="0.6"/>
<path d="M201.0,203.7 L202.2,210.6 L203.2,203.7 Z" fill="#6aa646"/>
</g>
<g filter="url(#b1)">
<path d="M70.5,156.8 C66.5,156.9 63.5,153.8 60.0,154.3 C56.6,154.7 52.2,156.9 49.8,159.5 C47.4,162.1 46.8,166.2 45.8,170.0 C44.8,173.9 43.6,178.3 43.8,182.8 C44.0,187.3 45.1,193.2 46.8,197.1 C48.5,200.9 51.4,203.6 54.0,206.1 C56.6,208.5 58.0,210.8 62.3,211.8 C66.5,212.8 75.3,212.7 79.5,212.1 C83.8,211.4 84.9,209.9 87.8,207.9 C90.7,205.8 94.6,203.8 96.8,199.8 C99.0,195.7 100.9,188.5 101.2,183.5 C101.4,178.6 99.4,174.0 98.5,170.0 C97.6,166.1 98.2,162.5 95.8,159.8 C93.4,157.1 88.3,154.3 84.1,153.8 C79.8,153.3 74.5,156.7 70.5,156.8 Z" fill="url(#gApple)"/>
<ellipse cx="70" cy="161" rx="20" ry="5.5" fill="#ee6a3a" opacity="0.8" filter="url(#b2)"/>
<ellipse cx="68" cy="163" rx="6" ry="2.6" fill="#f6b06a" opacity="0.8" filter="url(#b2)"/>
<ellipse cx="82.5" cy="174" rx="5" ry="3.2" fill="#fff" opacity="0.85" filter="url(#b2)"/>
<ellipse cx="72" cy="176" rx="4" ry="2.4" fill="#ffd0c0" opacity="0.5" filter="url(#b2)"/>
<path d="M70.8,166 C71,160 70.8,154 70.4,150.4" stroke="#5a3418" stroke-width="1" fill="none" stroke-linecap="round"/>
<circle cx="65.0" cy="175.3" r="0.5" fill="#f4a080" opacity="0.7"/>
<circle cx="78.0" cy="172.5" r="0.5" fill="#f4a080" opacity="0.7"/>
<circle cx="73.4" cy="182.8" r="0.5" fill="#f4a080" opacity="0.7"/>
<circle cx="54.3" cy="187.8" r="0.5" fill="#f4a080" opacity="0.7"/>
<circle cx="53.5" cy="185.2" r="0.5" fill="#f4a080" opacity="0.7"/>
<circle cx="54.8" cy="173.2" r="0.5" fill="#f4a080" opacity="0.7"/>
<circle cx="69.0" cy="198.9" r="0.5" fill="#f4a080" opacity="0.7"/>
<circle cx="57.0" cy="177.8" r="0.5" fill="#f4a080" opacity="0.7"/>
<circle cx="77.1" cy="203.2" r="0.5" fill="#f4a080" opacity="0.7"/>
<circle cx="75.1" cy="183.9" r="0.5" fill="#f4a080" opacity="0.7"/>
<circle cx="91.1" cy="171.6" r="0.5" fill="#f4a080" opacity="0.7"/>
<circle cx="86.3" cy="180.1" r="0.5" fill="#f4a080" opacity="0.7"/>
<circle cx="57.8" cy="174.1" r="0.5" fill="#f4a080" opacity="0.7"/>
<circle cx="64.3" cy="198.6" r="0.5" fill="#f4a080" opacity="0.7"/>
<circle cx="59.2" cy="190.4" r="0.5" fill="#f4a080" opacity="0.7"/>
<circle cx="77.6" cy="183.0" r="0.5" fill="#f4a080" opacity="0.7"/>
<circle cx="73.9" cy="172.2" r="0.5" fill="#f4a080" opacity="0.7"/>
<circle cx="54.4" cy="177.2" r="0.5" fill="#f4a080" opacity="0.7"/>
<circle cx="79.2" cy="185.0" r="0.5" fill="#f4a080" opacity="0.7"/>
<circle cx="64.6" cy="190.5" r="0.5" fill="#f4a080" opacity="0.7"/>
<circle cx="70.1" cy="180.5" r="0.5" fill="#f4a080" opacity="0.7"/>
<circle cx="83.8" cy="194.5" r="0.5" fill="#f4a080" opacity="0.7"/>
<circle cx="61.8" cy="190.1" r="0.5" fill="#f4a080" opacity="0.7"/>
<circle cx="73.0" cy="200.6" r="0.5" fill="#f4a080" opacity="0.7"/>
<circle cx="81.2" cy="180.1" r="0.5" fill="#f4a080" opacity="0.7"/>
<circle cx="91.2" cy="174.1" r="0.5" fill="#f4a080" opacity="0.7"/>
</g>
<ellipse cx="646" cy="142.5" rx="17" ry="3.4" fill="#cfcfcf" opacity="0.8" filter="url(#b2)"/>
<path d="M645.8,89.7 C657.5,89.7 667,108 667,121.8 C667,134 658,142.1 646,142.1 C634,142.1 625,134 625,121.8 C625,108 634.3,89.7 645.8,89.7 Z" fill="url(#gEgg)" stroke="#4a4a4a" stroke-width="1.5"/>
<g transform="translate(690,60) scale(0.225)" stroke="#141414" stroke-width="6.4" stroke-linejoin="round" stroke-linecap="round">
<path d="M574,284 C620,286 670,283 700,286 C722,290 728,302 722,322 C708,372 660,420 515,470 C640,410 682,362 698,318 C700,308 690,305 670,305 C640,306 600,306 578,304 Z" fill="#e3a9a3" stroke-width="5.8"/>
<path d="M362,333 C358,345 366,352 380,350 C400,347 430,345 452,332 Z" fill="#e3a9a3" stroke-width="5.8"/>
<path d="M214,310 C198,322 182,332 178,342 C180,352 200,348 212,344 C222,336 230,328 238,318 Z" fill="#e3a9a3" stroke-width="5.8"/>
<path d="M162,148 C166,118 176,96 188,92 C198,94 202,112 200,134 Z" fill="#fff" stroke-width="6"/>
<path d="M172,138 C174,120 180,106 188,102 C193,108 194,120 192,134 Z" fill="#f2f2f2" stroke="none"/>
<path d="M90,270 C86,262 90,250 100,238 C112,205 138,165 165,146 C185,135 210,130 232,132 C262,122 300,116 330,108 C380,96 450,100 490,140 C530,190 552,250 580,288 C578,302 560,310 530,312 C470,330 380,338 320,330 C285,322 240,318 215,300 C195,290 170,290 150,288 C125,296 98,290 90,270 Z" fill="#fff"/>
<path d="M488,324 C470,345 445,360 433,368 C428,380 445,382 470,376 C490,358 505,340 517,324 Z" fill="#e3a9a3" stroke-width="5.8"/>
<path d="M400,262 C415,296 455,316 516,322" fill="none"/>
<path d="M284,296 C286,322 290,338 300,346 C316,340 326,322 330,306" fill="#fff"/>
<path d="M290,344 C270,356 250,364 245,374 C246,386 268,380 288,376 C298,366 304,356 306,348 Z" fill="#e3a9a3" stroke-width="5.8"/>
<path d="M232,152 C236,118 256,88 282,86 C304,90 312,122 300,160 C292,172 280,178 268,182" fill="#fff"/>
<path d="M248,156 C252,126 266,106 282,104 C296,110 294,140 286,156 C280,164 274,166 268,168 Z" fill="#dba29c" stroke-width="3.5"/>
<path d="M172,212 C178,200 190,197 198,208" fill="none" stroke-width="5.5"/>
<path d="M118,262 C120,276 130,286 150,286 C165,284 176,276 182,268" fill="none" stroke-width="5.5"/>
</g>
<rect x="20.5" y="16.5" width="511.5" height="35.7" fill="#9d0b4f"/>
<rect x="543" y="16.5" width="384.5" height="35.7" fill="#9d0b4f"/>
<text x="40" y="42.3" font-size="21.5" font-weight="bold" fill="#fff" text-anchor="start" textLength="473" lengthAdjust="spacingAndGlyphs" >Screening of anti-inflammatory food ingredients</text>
<text x="578" y="42.3" font-size="21.5" font-weight="bold" fill="#fff" text-anchor="start" textLength="314.5" lengthAdjust="spacingAndGlyphs" >Ovalbumin-induced food allergy</text>
<g stroke="#1a1a1a" stroke-width="1.4" stroke-linecap="round" fill="none">
<line x1="289.80" y1="118.20" x2="306.08" y2="127.60"/>
<line x1="306.08" y1="127.60" x2="306.08" y2="146.40"/>
<line x1="306.08" y1="146.40" x2="289.80" y2="155.80"/>
<line x1="289.80" y1="155.80" x2="273.52" y2="146.40"/>
<line x1="273.52" y1="146.40" x2="273.52" y2="127.60"/>
<line x1="273.52" y1="127.60" x2="289.80" y2="118.20"/>
<line x1="290.45" y1="122.27" x2="302.23" y2="129.07"/>
<line x1="302.23" y1="144.93" x2="290.45" y2="151.73"/>
<line x1="276.72" y1="143.80" x2="276.72" y2="130.20"/>
<line x1="306.08" y1="127.60" x2="316.99" y2="121.30"/>
<line x1="327.73" y1="121.30" x2="338.64" y2="127.60"/>
<line x1="338.64" y1="127.60" x2="338.64" y2="146.40"/>
<line x1="338.64" y1="146.40" x2="322.36" y2="155.80"/>
<line x1="322.36" y1="155.80" x2="306.08" y2="146.40"/>
<line x1="335.44" y1="130.20" x2="335.44" y2="143.80"/>
<line x1="320.76" y1="156.80" x2="320.76" y2="169.30"/>
<line x1="323.96" y1="156.80" x2="323.96" y2="169.30"/>
<line x1="338.64" y1="146.40" x2="348.74" y2="152.23"/>
<line x1="338.64" y1="127.60" x2="356.02" y2="118.40"/>
<line x1="372.30" y1="90.20" x2="388.58" y2="99.60"/>
<line x1="388.58" y1="99.60" x2="388.58" y2="118.40"/>
<line x1="388.58" y1="118.40" x2="372.30" y2="127.80"/>
<line x1="372.30" y1="127.80" x2="356.02" y2="118.40"/>
<line x1="356.02" y1="118.40" x2="356.02" y2="99.60"/>
<line x1="356.02" y1="99.60" x2="372.30" y2="90.20"/>
<line x1="372.95" y1="94.27" x2="384.73" y2="101.07"/>
<line x1="384.73" y1="116.93" x2="372.95" y2="123.73"/>
<line x1="359.22" y1="115.80" x2="359.22" y2="102.20"/>
<line x1="388.58" y1="99.60" x2="399.33" y2="93.40"/>
<line x1="273.52" y1="127.60" x2="262.45" y2="121.21"/>
<line x1="289.80" y1="155.80" x2="289.80" y2="169.60"/>
</g>
<text x="322.4" y="122.4" font-size="11" font-weight="normal" fill="#111" text-anchor="middle">O</text>
<text x="322.4" y="180.4" font-size="11" font-weight="normal" fill="#111" text-anchor="middle">O</text>
<text x="294.1" y="180.4" font-size="11" font-weight="normal" fill="#111" text-anchor="middle">OH</text>
<text x="360.8" y="161.4" font-size="11" font-weight="normal" fill="#111" text-anchor="middle">OH</text>
<text x="409.0" y="94.2" font-size="11" font-weight="normal" fill="#111" text-anchor="middle">OH</text>
<text x="252.3" y="123.0" font-size="11" font-weight="normal" fill="#111" text-anchor="middle">HO</text>
<text x="272.7" y="79.6" font-size="17.5" font-weight="bold" fill="#8c1450" text-anchor="start" textLength="92.3" lengthAdjust="spacingAndGlyphs" >Kaempferol</text>
<g fill="#a6a6a6">
<path d="M476.5,96.2 L447.9,83.6 A30.6,30.6 0 1 1 448.9,109.2 Z"/>
<path d="M432.2,225 V158 A28.5,28.5 0 0 1 460.7,129.6 H495.8 A28.5,28.5 0 0 1 524.3,158 V225 Z"/>
</g>
<rect x="445.5" y="171.5" width="68" height="36" rx="10.5" fill="#fefcfc" stroke="#111" stroke-width="1.8" stroke-dasharray="1.6 1.6"/>
<line x1="62" y1="244" x2="446" y2="204.8" stroke="#111" stroke-width="1.8" stroke-dasharray="1.6 1.6"/>
<line x1="510.3" y1="207" x2="522.6" y2="269" stroke="#111" stroke-width="1.8" stroke-dasharray="1.6 1.6"/>
<rect x="33.2" y="244.4" width="490.7" height="269.3" rx="34" fill="none" stroke="#111" stroke-width="1.9"/>
<rect x="259" y="207" width="123.5" height="26" fill="#fefefe"/>
<text x="267.5" y="225.4" font-size="17" font-weight="bold" fill="#e21c26" text-anchor="start" textLength="106" lengthAdjust="spacingAndGlyphs" >Upregulation</text>
<path d="M272.8,183.1 L279.1,189.4 L236.3,236.2 L242.2,243.4 L219.6,247.8 L221.1,225.6 L228.0,230.4 Z" fill="#fefefe" stroke="#fefefe" stroke-width="3.5" stroke-linejoin="round"/>
<path d="M272.8,183.1 L279.1,189.4 L236.3,236.2 L242.2,243.4 L219.6,247.8 L221.1,225.6 L228.0,230.4 Z" fill="#ee1111"/>
<path d="M70.8,295.4 C85.2,313.5 124.6,347.0 152.2,349.0 C177.8,347.8 205.4,319.4 214.6,314.2 C217.2,311.9 219.5,314.8 216.7,316.8 C215.2,323.3 181.7,356.8 173.8,374.6 C187.6,383.3 229.0,387.2 251.9,393.0 C255.3,393.6 254.5,397.2 251.2,396.2 C234.9,399.4 177.8,390.3 171.9,406.1 C172.7,425.0 205.4,455.4 213.9,471.3 C216.0,474.1 213.0,476.1 211.2,473.2 C195.5,457.3 166.0,427.8 153.0,421.1 C145.1,418.7 147.4,459.3 145.6,474.3 C145.7,477.8 142.0,477.7 142.3,474.2 C139.6,459.3 138.4,431.7 130.5,421.9 C114.7,405.3 69.4,418.7 46.0,421.2 C42.6,421.9 42.0,418.4 45.5,417.9 C53.6,410.0 110.8,392.3 117.5,372.6 C121.4,354.9 76.5,311.5 68.3,297.6 C65.9,295.1 68.6,292.7 70.8,295.4 Z" fill="#fff" stroke="#24357a" stroke-width="1.45" stroke-linejoin="round"/>
<ellipse cx="144.4" cy="385.4" rx="23.7" ry="21.8" fill="#0c1c66"/>
<text x="70.3" y="277.6" font-size="17.8" font-weight="bold" fill="#15205e" text-anchor="start" textLength="150.3" lengthAdjust="spacingAndGlyphs" >RALDH2 (<tspan font-style="italic">Aldh1a2</tspan>)</text>
<text x="46.8" y="498.8" font-size="17.8" font-weight="bold" fill="#15205e" text-anchor="start" textLength="194.3" lengthAdjust="spacingAndGlyphs" >Intestinal dendritic cells</text>
<text x="237.7" y="304.6" font-size="17.8" font-weight="bold" fill="#7b2c10" text-anchor="start" textLength="103.7" lengthAdjust="spacingAndGlyphs" >Retinoic acid</text>
<text x="383" y="278.1" font-size="17.8" font-weight="bold" fill="#222" text-anchor="start" textLength="100.4" lengthAdjust="spacingAndGlyphs" >Naive T cells</text>
<text x="378.3" y="445.5" font-size="17.8" font-weight="bold" fill="#2c5a1a" text-anchor="start" textLength="141.7" lengthAdjust="spacingAndGlyphs" >Regulatory T cells</text>
<text x="265.3" y="499.3" font-size="17.8" font-weight="bold" fill="#1c6db8" text-anchor="start" textLength="234.8" lengthAdjust="spacingAndGlyphs" >Suppression of inflammation</text>
<path d="M279.7,320.8 l8,13.6 h-16 z" fill="#f5993d"/>
<path d="M260.3,333.0 l8,13.6 h-16 z" fill="#f5993d"/>
<path d="M288.6,337.0 l8,13.6 h-16 z" fill="#f5993d"/>
<path d="M311.6,330.6 l8,13.6 h-16 z" fill="#f5993d"/>
<path d="M272.1,362.2 l8,13.6 h-16 z" fill="#f5993d"/>
<g fill="none" stroke="#151515" stroke-width="1.2" stroke-linecap="round" stroke-linejoin="round">
<path d="M206,373 C245,346 300,331 375.5,325.8"/>
<path d="M358.6,319.2 L375.8,325.7 L360.4,336.1"/>
</g>
<circle cx="435.7" cy="330.7" r="37.7" fill="#fff" stroke="#8a8a8a" stroke-width="1.1"/>
<ellipse cx="432.8" cy="343.8" rx="23.9" ry="21.9" fill="#8d8d8d"/>
<g fill="none" stroke="#1f3864" stroke-width="1.2" stroke-linecap="round" stroke-linejoin="round">
<path d="M480.5,370.4 C497,374 506,379 503,385 C498,396 430,405 376,417.5"/>
<path d="M386.2,408.1 L375.4,417.6 L390.3,420.8" stroke="#151a30"/>
</g>
<circle cx="327" cy="397" r="27.3" fill="#fff" stroke="#3c6a2c" stroke-width="1.1"/>
<ellipse cx="328" cy="405.5" rx="17.2" ry="16.1" fill="#275a17"/>
<circle cx="288.1" cy="443.9" r="27.3" fill="#fff" stroke="#3c6a2c" stroke-width="1.1"/>
<ellipse cx="289.4" cy="452.6" rx="17.2" ry="16.1" fill="#275a17"/>
<circle cx="347" cy="450.8" r="27.3" fill="#fff" stroke="#3c6a2c" stroke-width="1.1"/>
<ellipse cx="347.9" cy="459.2" rx="17.2" ry="16.1" fill="#275a17"/>
<rect x="623.3" y="195.6" width="22.5" height="16" fill="#0a0a0a"/>
<text x="651.4" y="210.3" font-size="17.8" font-weight="bold" fill="#111" text-anchor="start" textLength="60" lengthAdjust="spacingAndGlyphs" >Control</text>
<rect x="733.9" y="195.6" width="22" height="16" fill="#9d0b4f"/>
<text x="761.5" y="210.3" font-size="17.8" font-weight="bold" fill="#8c1450" text-anchor="start" textLength="93.7" lengthAdjust="spacingAndGlyphs" >Kaempferol</text>
<text x="591.7" y="500.1" font-size="18.2" font-weight="bold" fill="#96104e" text-anchor="start" textLength="300.5" lengthAdjust="spacingAndGlyphs" >Alleviation of food allergy symptoms</text>
<g stroke="#0a0a0a" stroke-width="1.9" fill="none">
<path d="M593.3,238.85000000000002 V423.8 H747.25"/>
<line x1="585.0" y1="239.8" x2="593.3" y2="239.8"/>
<line x1="585.0" y1="285.8" x2="593.3" y2="285.8"/>
<line x1="585.0" y1="331.8" x2="593.3" y2="331.8"/>
<line x1="585.0" y1="377.8" x2="593.3" y2="377.8"/>
<line x1="585.0" y1="423.8" x2="593.3" y2="423.8"/>
<line x1="593.3" y1="423.8" x2="593.3" y2="432.1"/>
<line x1="637.0" y1="423.8" x2="637.0" y2="432.1"/>
<line x1="680.6999999999999" y1="423.8" x2="680.6999999999999" y2="432.1"/>
<line x1="724.4" y1="423.8" x2="724.4" y2="432.1"/>
</g>
<text x="581.6999999999999" y="244.5" font-size="13" font-weight="normal" fill="#0a0a0a" text-anchor="end" textLength="6.7" lengthAdjust="spacingAndGlyphs">2</text>
<text x="581.6999999999999" y="290.5" font-size="13" font-weight="normal" fill="#0a0a0a" text-anchor="end" textLength="6.7" lengthAdjust="spacingAndGlyphs">1</text>
<text x="581.6999999999999" y="336.5" font-size="13" font-weight="normal" fill="#0a0a0a" text-anchor="end" textLength="6.7" lengthAdjust="spacingAndGlyphs">0</text>
<text x="581.6999999999999" y="382.5" font-size="13" font-weight="normal" fill="#0a0a0a" text-anchor="end" textLength="11.0" lengthAdjust="spacingAndGlyphs">-1</text>
<text x="581.6999999999999" y="428.5" font-size="13" font-weight="normal" fill="#0a0a0a" text-anchor="end" textLength="11.0" lengthAdjust="spacingAndGlyphs">-2</text>
<text x="593.3" y="449.2" font-size="13" font-weight="normal" fill="#0a0a0a" text-anchor="middle" textLength="6.9" lengthAdjust="spacingAndGlyphs">0</text>
<text x="637.0" y="449.2" font-size="13" font-weight="normal" fill="#0a0a0a" text-anchor="middle" textLength="13.8" lengthAdjust="spacingAndGlyphs">20</text>
<text x="680.6999999999999" y="449.2" font-size="13" font-weight="normal" fill="#0a0a0a" text-anchor="middle" textLength="13.8" lengthAdjust="spacingAndGlyphs">40</text>
<text x="724.4" y="449.2" font-size="13" font-weight="normal" fill="#0a0a0a" text-anchor="middle" textLength="13.8" lengthAdjust="spacingAndGlyphs">60</text>
<text x="670.5" y="470.8" font-size="12.5" font-weight="normal" fill="#0a0a0a" text-anchor="middle" textLength="41.3" lengthAdjust="spacingAndGlyphs">minutes</text>
<text transform="translate(562.6,338.4) rotate(-90)" font-size="12" font-weight="normal" fill="#0a0a0a" text-anchor="middle" textLength="128.5" lengthAdjust="spacingAndGlyphs">Δ Body temperature (°C)</text>
<line x1="602.66" y1="332.1" x2="743.56" y2="332.1" stroke="#0a0a0a" stroke-width="3" stroke-linecap="round" stroke-dasharray="0.01 9.35"/>
<g stroke="#9d0b4f" fill="none">
<path d="M615.1,336.4 V317.1 M611.5,317.1 h7.2" stroke-width="1.5"/>
<path d="M637.0,328.6 V305.1 M633.4,305.1 h7.2" stroke-width="1.5"/>
<path d="M658.8,315.7 V295.9 M655.2,295.9 h7.2" stroke-width="1.5"/>
<path d="M680.7,306.5 V288.1 M677.1,288.1 h7.2" stroke-width="1.5"/>
<path d="M702.5,303.3 V284.9 M698.9,284.9 h7.2" stroke-width="1.5"/>
<path d="M724.4,306.5 V285.8 M720.8,285.8 h7.2" stroke-width="1.5"/>
<polyline points="593.3,331.8 615.1,336.4 637.0,328.6 658.8,315.7 680.7,306.5 702.5,303.3 724.4,306.5" stroke-width="3.1" stroke-linejoin="round"/>
<circle cx="593.3" cy="331.8" r="3.4" fill="#fff" stroke-width="1.6"/>
<circle cx="615.1" cy="336.4" r="3.4" fill="#fff" stroke-width="1.6"/>
<circle cx="637.0" cy="328.6" r="3.4" fill="#fff" stroke-width="1.6"/>
<circle cx="658.8" cy="315.7" r="3.4" fill="#fff" stroke-width="1.6"/>
<circle cx="680.7" cy="306.5" r="3.4" fill="#fff" stroke-width="1.6"/>
<circle cx="702.5" cy="303.3" r="3.4" fill="#fff" stroke-width="1.6"/>
<circle cx="724.4" cy="306.5" r="3.4" fill="#fff" stroke-width="1.6"/>
</g>
<g stroke="#0a0a0a" fill="none">
<path d="M615.1,347.0 V344.2 M611.5,344.2 h7.2" stroke-width="1.5"/>
<path d="M637.0,352.5 V347.4 M633.4,347.4 h7.2" stroke-width="1.5"/>
<path d="M658.8,369.1 V366.8 M655.2,366.8 h7.2" stroke-width="1.5"/>
<path d="M680.7,382.4 V375.5 M677.1,375.5 h7.2" stroke-width="1.5"/>
<path d="M702.5,391.1 V383.3 M698.9,383.3 h7.2" stroke-width="1.5"/>
<path d="M724.4,396.2 V388.4 M720.8,388.4 h7.2" stroke-width="1.5"/>
<polyline points="593.3,331.8 615.1,347.0 637.0,352.5 658.8,369.1 680.7,382.4 702.5,391.1 724.4,396.2" stroke-width="3.1" stroke-linejoin="round"/>
<circle cx="593.3" cy="331.8" r="3.4" fill="#fff" stroke-width="1.6"/>
<circle cx="615.1" cy="347.0" r="3.4" fill="#fff" stroke-width="1.6"/>
<circle cx="637.0" cy="352.5" r="3.4" fill="#fff" stroke-width="1.6"/>
<circle cx="658.8" cy="369.1" r="3.4" fill="#fff" stroke-width="1.6"/>
<circle cx="680.7" cy="382.4" r="3.4" fill="#fff" stroke-width="1.6"/>
<circle cx="702.5" cy="391.1" r="3.4" fill="#fff" stroke-width="1.6"/>
<circle cx="724.4" cy="396.2" r="3.4" fill="#fff" stroke-width="1.6"/>
</g>
<text x="658.8" y="292.5" font-size="9" font-weight="bold" fill="#9d0b4f" text-anchor="middle">*</text>
<text x="680.7" y="284" font-size="9" font-weight="bold" fill="#9d0b4f" text-anchor="middle">**</text>
<text x="702.5" y="281.3" font-size="9" font-weight="bold" fill="#9d0b4f" text-anchor="middle">**</text>
<text x="724.4" y="282.3" font-size="9" font-weight="bold" fill="#9d0b4f" text-anchor="middle">**</text>
<rect x="835.4499999999999" y="297.70000000000005" width="26.7" height="128.79999999999998" fill="#0a0a0a"/>
<rect x="874.65" y="408.1" width="26.7" height="18.4" fill="#9d0b4f"/>
<path d="M848.8,297.70000000000005 V279.3" stroke="#0a0a0a" stroke-width="1.5"/>
<path d="M888.0,408.1 V389.7 M881.5,389.7 h13" stroke="#0a0a0a" stroke-width="1.5" fill="none"/>
<g stroke="#0a0a0a" stroke-width="1.9" fill="none">
<path d="M823.1,241.55 V426.5 H914"/>
<line x1="814.8000000000001" y1="426.5" x2="823.1" y2="426.5"/>
<line x1="814.8000000000001" y1="389.7" x2="823.1" y2="389.7"/>
<line x1="814.8000000000001" y1="352.9" x2="823.1" y2="352.9"/>
<line x1="814.8000000000001" y1="316.1" x2="823.1" y2="316.1"/>
<line x1="814.8000000000001" y1="279.3" x2="823.1" y2="279.3"/>
<line x1="814.8000000000001" y1="242.5" x2="823.1" y2="242.5"/>
<line x1="848.8" y1="426.5" x2="848.8" y2="434.8"/>
<line x1="888.0" y1="426.5" x2="888.0" y2="434.8"/>
</g>
<text x="811.3000000000001" y="431.2" font-size="13" font-weight="normal" fill="#0a0a0a" text-anchor="end" textLength="17.3" lengthAdjust="spacingAndGlyphs">0.0</text>
<text x="811.3000000000001" y="394.4" font-size="13" font-weight="normal" fill="#0a0a0a" text-anchor="end" textLength="17.3" lengthAdjust="spacingAndGlyphs">0.5</text>
<text x="811.3000000000001" y="357.59999999999997" font-size="13" font-weight="normal" fill="#0a0a0a" text-anchor="end" textLength="17.3" lengthAdjust="spacingAndGlyphs">1.0</text>
<text x="811.3000000000001" y="320.8" font-size="13" font-weight="normal" fill="#0a0a0a" text-anchor="end" textLength="17.3" lengthAdjust="spacingAndGlyphs">1.5</text>
<text x="811.3000000000001" y="284.0" font-size="13" font-weight="normal" fill="#0a0a0a" text-anchor="end" textLength="17.3" lengthAdjust="spacingAndGlyphs">2.0</text>
<text x="811.3000000000001" y="247.2" font-size="13" font-weight="normal" fill="#0a0a0a" text-anchor="end" textLength="17.3" lengthAdjust="spacingAndGlyphs">2.5</text>
<text x="848.8" y="452" font-size="13" font-weight="normal" fill="#0a0a0a" text-anchor="middle">-</text>
<text x="888.0" y="452" font-size="13" font-weight="normal" fill="#0a0a0a" text-anchor="middle" textLength="25" lengthAdjust="spacingAndGlyphs">KAE</text>
<text transform="translate(775.3,341) rotate(-90)" font-size="12" font-weight="normal" fill="#0a0a0a" text-anchor="middle" textLength="79.8" lengthAdjust="spacingAndGlyphs">Diarrhea Score</text>
<g fill="#fff" stroke="#0a0a0a" stroke-width="1.5">
<circle cx="841.5" cy="279.3" r="3"/>
<circle cx="880.7" cy="426.5" r="3"/>
<circle cx="848.8" cy="279.3" r="3"/>
<circle cx="888.0" cy="426.5" r="3"/>
<circle cx="856.0999999999999" cy="279.3" r="3"/>
<circle cx="895.3" cy="426.5" r="3"/>
<circle cx="848.8" cy="352.9" r="2.6"/>
<circle cx="888.0" cy="352.9" r="3"/>
</g>
<line x1="849.3" y1="258.6" x2="891.6" y2="258.6" stroke="#9d0b4f" stroke-width="1.3"/>
<text x="869.5" y="256" font-size="9" font-weight="bold" fill="#9d0b4f" text-anchor="middle">**</text>
</svg>
</body></html>
